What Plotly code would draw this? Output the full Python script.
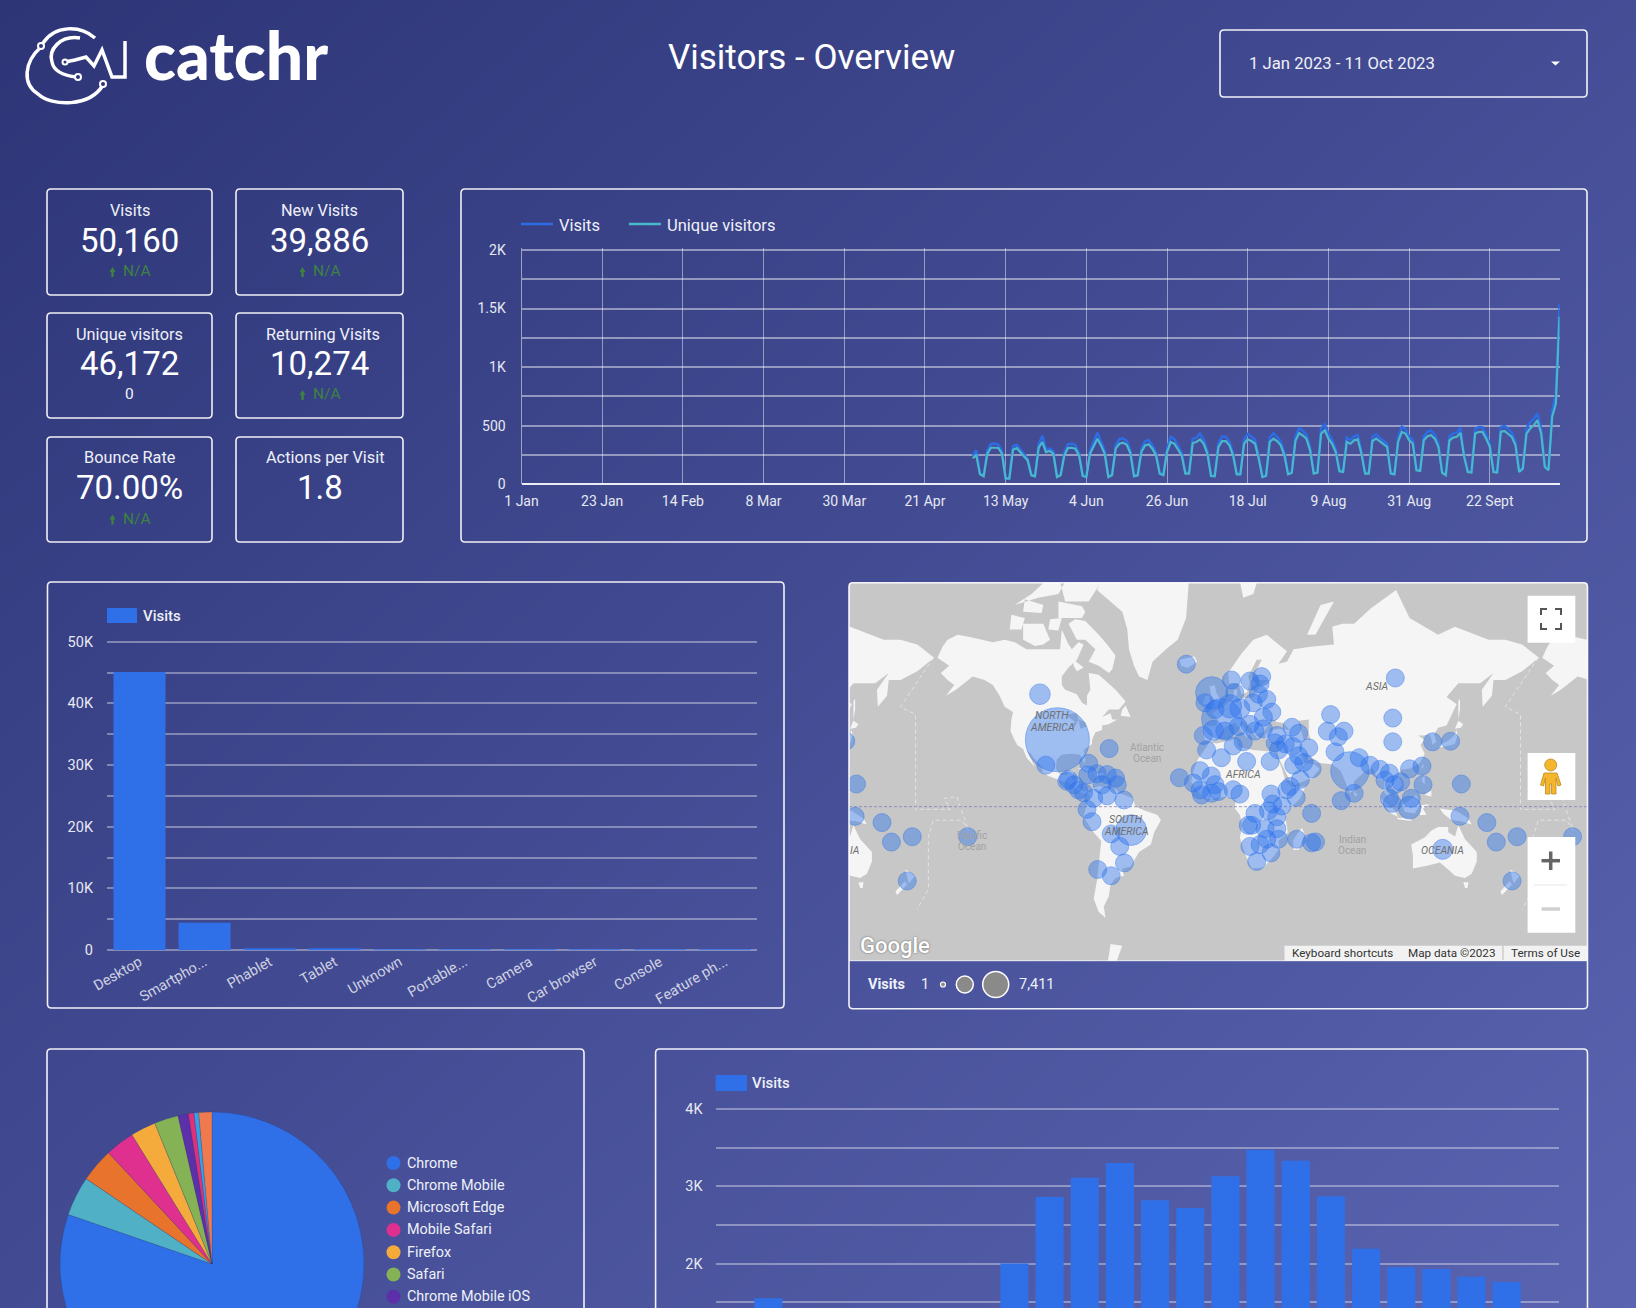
import math
import pandas as pd
import plotly.graph_objects as go

W, H, PAGE_H = 1636, 1440, 1308

# ---------- data ----------
kpi_titles = ["Visits", "New Visits", "Unique visitors", "Returning Visits", "Bounce Rate", "Actions per Visit"]
kpi_values = ["50,160", "39,886", "46,172", "10,274", "70.00%", "1.8"]
kpi_deltas = ["N/A", "N/A", "0", "N/A", "N/A", ""]

unique_may = [224,247,85,68,261,312,312,310,261,48,48,295,310,275,233,204,77,68,312,361,275,284,261,62,77,247,310,312]
unique_jun = [304,247,71,62,261,332,389,332,261,62,77,304,346,355,338,267,68,77,275,332,341,304,247,91,77,275,361,346,295,247]
unique_jul = [91,91,352,361,383,346,261,71,68,318,369,369,332,247,85,85,346,383,369,346,219,62,71,361,389,369,332,247,85,97,369]
unique_aug = [437,417,389,290,91,99,432,460,389,346,275,111,105,361,346,375,383,261,91,91,370,390,362,342,319,91,85,362,447,433,376]
unique_sep = [348,120,114,376,410,419,390,319,97,77,376,399,405,439,234,105,100,433,447,447,390,319,105,100,447,456,433,405,333,105]
unique_oct = [134,433,476,504,547,433,148,120,576,690,1431]
visits_may = [245,290,92,75,287,345,348,340,285,52,53,325,338,298,250,218,84,74,342,415,300,305,283,68,84,270,342,345]
visits_jun = [335,270,78,68,288,370,440,365,285,68,85,335,385,392,372,290,74,84,305,368,378,335,270,100,84,305,405,385,325,268]
visits_jul = [100,100,388,398,432,380,285,78,75,350,408,408,365,268,93,93,382,430,408,380,238,68,78,400,435,405,365,270,93,106,408]
visits_aug = [480,458,425,315,100,108,478,510,430,380,300,122,115,398,378,410,420,285,100,100,405,428,395,372,345,100,92,398,490,472,408]
visits_sep = [378,130,124,408,448,458,425,345,106,84,410,435,442,482,255,114,108,472,490,488,425,345,114,108,488,498,472,442,362,114]
visits_oct = [146,480,530,560,604,470,160,130,640,760,1539]
line_tick_dates = ["2023-01-01","2023-01-23","2023-02-14","2023-03-08","2023-03-30","2023-04-21","2023-05-13",
                   "2023-06-04","2023-06-26","2023-07-18","2023-08-09","2023-08-31","2023-09-22"]
line_tick_text = ["1 Jan","23 Jan","14 Feb","8 Mar","30 Mar","21 Apr","13 May","4 Jun","26 Jun","18 Jul","9 Aug","31 Aug","22 Sept"]

device_names = ["Desktop","Smartpho...","Phablet","Tablet","Unknown","Portable...","Camera","Car browser","Console","Feature ph..."]
device_visits = [45100,4430,240,190,90,40,30,15,10,5]

browser_names = ["Chrome","Chrome Mobile","Microsoft Edge","Mobile Safari","Firefox","Safari","Chrome Mobile iOS","Samsung Internet","Opera","Others"]
browser_visits = [40280,2110,1810,1550,1350,1280,550,300,250,700]
browser_colors = ["#2f70e9","#4fb0c6","#e8732c","#e0308f","#f4ab3c","#85b254","#5c30a8","#e0307a","#35a0e8","#ef7a4d"]

hours = [str(h) for h in range(24)]
hour_visits = [1380,1550,1250,1100,1000,950,1000,1300,2000,2860,3110,3300,2820,2720,3130,3470,3330,2870,2190,1950,1930,1830,1760,1350]

city_lon = [-107,-96.6,-103.5,-78,-65.8,-90,-91,-86.7,-84,-81,-78.5,-73,-67,-62,-61,-70,-75,-67,-57,-79,-76,-64.6,-52.7,-59.5,-56.7,-72.6,-64.6,-150,
            -19.9,-4.8,1.2,7,18,25,24,23,9,-8.8,-2.8,6.1,12,20,28,31,26,18,11,21,26,-9.8,-3.8,3,-7.8,8,14,1,16,30,34,33,35,39,43,47,43.5,53,47,44,50,55,48,66,64,74,70.6,68.6,77.5,83,89.4,80,72.3,
            -24,-11.7,-15.7,-5,-11.7,-10.8,-2.8,-4.8,-0.8,8,12,30.5,40,42,45.5,21,29,31.5,37,34,27,34,35,28,19,24,18,30.5,22,45.8,54.7,54.7,57,17,
            104.5,103,103,126.7,137.4,113,120.4,121,143.8,95.4,101,98.4,107.7,104,101,102.7,114,113,143,159,164.6,177,174,132.7]
city_lat = [55.5,37,24,25,32.7,16,15,12.9,9.9,8.3,18.6,19.3,18.8,16.8,12.9,12.9,5,6.5,4,-1.6,-8.9,-16,-13.8,-23,-31.7,-35,-38,-17.6,
            64.4,56,46.3,60,59.7,61,58.8,55.5,56,52.5,50,51.2,50.3,52.5,53.7,49,47,44,43,41,42,39,41.3,41,32,34,36,28,26,26,39,35.5,32,35,42.7,40,33.7,33.1,29,24,25.5,22,16,48,41,41,38.4,31,20.8,28,24,8,3.6,
            17,21,14,18,10,7,13,8,9,10,7.5,7.5,10,12,5.5,-4,-2.4,1.6,0.4,-6,-13,-13,-19,-19,-11,-22,-23,-26.5,-31,-19,-4,-21,-20.5,-11,
            60.6,46.6,36,36,36.3,22,23.5,13,13.4,21.7,19.6,15.6,14.6,13,5,2,5,-0.6,-5.7,-9.4,-20.6,-17.6,-40.4,-24.6]
city_visits = [770,7411,380,260,250,340,232,232,232,205,180,260,320,320,420,260,390,232,232,232,320,232,1700,232,260,320,425,232,
               232,1850,2900,320,390,290,232,232,260,390,425,985,725,320,232,320,232,500,390,320,180,320,725,500,260,260,260,260,260,290,500,232,390,232,232,232,232,260,180,232,232,232,260,260,232,260,205,500,2660,260,260,232,232,
               232,232,260,232,260,260,260,260,260,232,232,232,232,180,232,232,260,205,232,205,205,180,180,180,180,205,180,232,390,260,260,232,180,232,
               320,260,260,320,425,320,355,545,232,205,260,390,545,232,390,290,260,930,232,232,232,232,355,725]

land = [
 [(-168,66),(-165,68.5),(-162,70),(-156,71),(-148,70.5),(-141,70),(-135,69.5),(-128,70),(-122,69.5),(-115,68),(-108,68),(-102,68),(-95,68),(-94,72),(-90,69),(-88,68),(-84,69.5),(-81,69),(-85,65.5),(-90,63.5),(-94,61),(-94,58.5),(-92,57),(-85,55.5),(-82,52.5),(-79,51.5),(-79,55),(-77,57),(-78,62),(-72,61.5),(-66,59),(-62,57),(-56,53),(-60,50),(-66,50),(-70,47),(-65,48.5),(-64,46),(-61,46),(-66,44),(-70,43.5),(-70,41.5),(-74,40.5),(-76,37),(-76,35),(-81,32),(-80,27),(-80.5,25),(-82,27),(-83,29.5),(-89,30),(-94,29.5),(-97,27),(-97.5,22),(-95,18.5),(-91,18.5),(-90,21),(-87,21),(-88,16),(-84,15.5),(-83.5,11),(-81,9),(-79,9.5),(-77.5,8),(-78,7.5),(-80,7.5),(-83,8.5),(-85.5,10),(-87.5,13),(-92,14.5),(-96,16),(-102,18),(-105.5,20),(-105.5,23),(-109,26),(-112.5,30),(-114.5,31.5),(-112,27),(-110,23),(-112,25),(-115,28),(-117,32.5),(-120.5,34.5),(-122.5,37.5),(-124.5,41),(-124,46),(-123,49),(-128,51),(-131,55),(-135,58.5),(-140,60),(-147,61),(-152,59),(-157,57),(-163,55),(-158,58.5),(-162,60),(-166,62),(-161,64)],
 [(-80,73.5),(-72,71),(-67,69),(-62,66.5),(-64,63),(-66,62),(-72,64),(-78,65),(-74,68),(-80,70),(-85,70),(-90,73),(-86,73.8)],
 [(-117,70),(-110,68.7),(-105,69),(-101,70),(-105,73),(-112,73),(-117,73)],
 [(-92,76.5),(-85,76.5),(-78,76.5),(-72,78.5),(-62,82.5),(-70,83),(-80,83),(-92,81.5),(-95,79)],
 [(-125,72),(-118,72),(-116,74),(-124,74.5)],
 [(-96,74),(-82,74),(-80,75),(-82,75.8),(-96,76.5)],
 [(-117,75),(-106,74.8),(-105,76),(-116,76.8)],
 [(-102,72),(-96,71.8),(-94,74),(-101,73.8)],
 [(-122,76),(-112,77.5),(-104,79),(-98,81),(-92,79),(-96,77.5),(-108,77)],
 [(-87,65.5),(-81,63.5),(-85,62.5),(-87,64)],
 [(-59,47.5),(-53,47),(-56,51.5),(-58,50)],
 [(-85,22),(-80,23),(-74,20),(-78,20),(-82,22)],
 [(-74,19.5),(-69,19.5),(-68.5,18.5),(-74,18)],
 [(-73,78),(-66,81),(-60,82),(-45,83),(-30,83.5),(-18,80),(-20,74),(-25,70),(-32,68),(-40,65),(-43,60),(-48,61),(-51,64),(-54,68),(-55,72),(-58,75)],
 [(-24,65.5),(-15,66.3),(-13.5,65),(-19,63.4),(-23,64)],
 [(-77.5,8),(-75,11),(-71.5,12.3),(-68,11),(-62,10.5),(-60,8.5),(-52,5),(-50,0),(-44,-2.5),(-37,-5),(-35,-8),(-39,-15),(-41,-22),(-48,-26),(-53,-33.5),(-58,-34.5),(-57,-38),(-62,-39),(-65,-42),(-66,-47),(-69,-51),(-68,-55),(-72,-53),(-75,-48),(-73,-40),(-71.5,-30),(-70.5,-20),(-76,-14),(-81,-6),(-80,-2),(-79,2),(-77.5,5)],
 [(-6,35.8),(-2,35.2),(10,37.3),(11,33.5),(20,32),(25,31.5),(32,31),(34.5,28),(37,22),(39,15.5),(43,11.5),(51,12),(48,5),(41,-2),(39,-6),(40.5,-15),(35,-20),(35.5,-24),(32.5,-28),(26,-34),(19,-34.5),(15,-27),(12,-18),(13.5,-11),(12,-5),(9,-1),(9.5,4),(4,6),(-4,5),(-8,4.5),(-13,9),(-17,14.5),(-16,20),(-13,27),(-10,31)],
 [(49,-12.5),(50.5,-16),(47,-25),(44,-25),(43.5,-20),(46,-16)],
 [(-9,37),(-9.5,43),(-2,43.5),(-1,46),(-4.5,48.5),(2,51),(8,54),(8.5,57),(10.5,57),(10,54.5),(14,54),(20,54.5),(24,58),(29,60),(23,60),(21,62),(25,65.5),(22,65.5),(17,61),(18,59),(16,56),(13,55.5),(11,59),(5.5,59),(5,62),(13,67),(20,70),(28,71),(40,67.5),(35,64.5),(40,65),(44,68),(54,68.5),(68,69),(67,72.5),(73,73),(80,73),(90,75.5),(105,78),(113,74),(130,71),(140,72.5),(160,70),(170,70),(180,69),(190,66),(180,62.5),(170,60),(163,60),(162,55),(156.5,51),(156,57),(163,62),(155,59),(142,59),(135,54.5),(141,52),(135,43.5),(130,42.5),(127.5,39.5),(129,36),(126.5,34.5),(126,37.5),(125,39.5),(121,39),(118,39),(122,37),(119.5,34.5),(122,30),(119,25),(113,22),(108,21.5),(106,19),(109,13),(105,9),(100.5,13.5),(99,10),(103.5,2),(100.5,6),(98,8.5),(98,16),(94.5,16),(91,22.5),(87,21),(80,15),(80,10),(77.5,8),(73,19),(72,21),(67,24.5),(57,25.5),(56.5,27),(50,30),(48,30),(51,25),(56,24.5),(59.5,22),(55,17),(45,13),(43,13),(39,21),(35,28),(34.5,31),(36,36),(30,36),(26.5,38.5),(29,41),(35,42),(41.5,41.5),(38,44.5),(34,45),(31,46.5),(28,42.5),(26,40.5),(23,40),(23,37),(20,40),(19,42),(14,45.5),(12.5,44),(18,40),(16,38),(12,42),(9,44.5),(3.5,43),(0,39.5),(-2,37),(-5.5,36)],
 [(-5.5,50),(1.5,51.5),(0,54),(-2,56),(-3,58.5),(-6,58),(-5,54.5),(-3,53.5),(-5,52)],
 [(-10,52),(-6,52),(-6,55),(-8.5,55)],
 [(12,79),(25,80.5),(20,77.5),(14,77)],
 [(52,71),(57,71),(68,76.5),(60,76)],
 [(130,33),(135,34),(140,35),(141.5,39),(141,41.5),(139.5,39),(136,36.5),(132,35),(130,33.5)],
 [(140,42),(143.5,42.5),(145,44),(142,45.5)],
 [(142,46),(143,50),(143,54),(142,53)],
 [(120,23),(121.5,25),(121,22)],
 [(120,16),(122,18.5),(122,14),(124,13),(121,14)],
 [(122,7),(126,6),(126,9.5),(123,8.5)],
 [(95,5.5),(104,-2),(106,-6),(102,-4),(97,2)],
 [(105.5,-6.5),(114,-7),(114,-8.5),(106,-7.5)],
 [(109,1),(117,7),(119,1),(116,-4),(110,-3)],
 [(119,-5),(120,1),(125,1.5),(121,-1),(123,-5)],
 [(131,-1),(141,-2.5),(148,-7),(150,-10.5),(143,-8.5),(138,-8),(133,-4)],
 [(80,9.5),(82,7),(80.5,6),(79.8,8)],
 [(114,-22),(122,-18),(126,-14),(130,-12),(136,-12),(136,-15),(140,-17.5),(142,-11),(146,-19),(153,-26),(153,-31),(150,-37),(146,-39),(140,-38),(136,-35),(131,-31.5),(124,-33),(115,-34.5),(115,-28)],
 [(145,-41),(148,-41),(147.5,-43.5),(146,-43.5)],
 [(173,-35),(178.5,-38),(175,-41.5),(174,-39)],
 [(172.5,-40.5),(174,-42),(168,-46.5),(167,-45)],
 [(-65,-63),(-58,-63.5),(-62,-68),(-68,-70),(-66,-66)],
]
lakes = [
 [(47,45.5),(53,46),(53,40),(54,37),(50,37),(49,40)],
 [(-92,48),(-85,48.5),(-84,46),(-87,42),(-88,44),(-86,45)],
 [(-84,46),(-80,45),(-79,43),(-83,42)],
]
date_line = [(-170.4,66),(-190,51),(-181,48),(-181,-1.6),(-160.5,-1.6),(-164,5),(-156.5,6),(-149.5,-14),(-153.5,-8),(-170.4,-8),(-173.4,-17.6),(-173.4,-44),(-180,-52)]

# ---------- pixel helpers ----------
def fx(x): return x / W
def fy(y): return 1 - y / H
def merc(lat): return math.log(math.tan(math.pi / 4 + math.radians(lat) / 2))

shapes, notes = [], []
FONT = "Roboto"
def T(text, x, y, size, color="#ffffff", anchor="center", family=FONT, weight=None, italic=False):
    f = dict(family=family, size=size, color=color)
    if weight: f["weight"] = weight
    if italic: f["style"] = "italic"
    notes.append(dict(text=text, x=fx(x), y=fy(y), xref="paper", yref="paper", showarrow=False,
                      xanchor=anchor, yanchor="middle", font=f, borderpad=0, borderwidth=0))
def S(path, line=None, width=0, fill=None):
    s = dict(type="path", xref="paper", yref="paper", path=path, layer="above", line=dict(width=width, color=line or "rgba(0,0,0,0)"))
    if fill: s["fillcolor"] = fill
    shapes.append(s)
def pt(x, y): return f"{fx(x):.5f},{fy(y):.5f}"
def poly(pts, close=False): return "M" + " L".join(pt(*p) for p in pts) + (" Z" if close else "")
def curve(start, *segs):
    p = "M" + pt(*start)
    for c1, c2, e in segs:
        p += " C" + pt(*c1) + " " + pt(*c2) + " " + pt(*e)
    return p
def rrect(x0, y0, x1, y1, r=4, line="rgba(255,255,255,0.92)", width=1.6, fill=None):
    p = ("M"+pt(x0+r,y0)+" L"+pt(x1-r,y0)+" Q"+pt(x1,y0)+" "+pt(x1,y0+r)+" L"+pt(x1,y1-r)+" Q"+pt(x1,y1)+" "+pt(x1-r,y1)
         +" L"+pt(x0+r,y1)+" Q"+pt(x0,y1)+" "+pt(x0,y1-r)+" L"+pt(x0,y0+r)+" Q"+pt(x0,y0)+" "+pt(x0+r,y0)+" Z")
    S(p, line, width, fill)
def circle(cx, cy, r, fill=None, line=None, width=0):
    s = dict(type="circle", xref="paper", yref="paper", x0=fx(cx-r), x1=fx(cx+r), y0=fy(cy+r), y1=fy(cy-r), layer="above",
             line=dict(width=width, color=line or "rgba(0,0,0,0)"))
    if fill: s["fillcolor"] = fill
    shapes.append(s)

fig = go.Figure()

# gradient page background
fig.add_trace(go.Heatmap(z=[[0, 0.5], [0.5, 1]], x=[0, 1], y=[1, 0], zsmooth="best", showscale=False, hoverinfo="skip",
                         colorscale=[[0, "#2d3577"], [1, "#5c66b3"]], zmin=0, zmax=1, xaxis="x", yaxis="y"))

# line chart
days = pd.date_range("2023-05-04", periods=161, freq="D")
visits_daily = visits_may + visits_jun + visits_jul + visits_aug + visits_sep + visits_oct
unique_daily = unique_may + unique_jun + unique_jul + unique_aug + unique_sep + unique_oct
fig.add_trace(go.Scatter(x=days, y=visits_daily, mode="lines", line=dict(color="#2c6de3", width=2.5), xaxis="x2", yaxis="y2", name="Visits", hoverinfo="skip"))
fig.add_trace(go.Scatter(x=days, y=unique_daily, mode="lines", line=dict(color="#4ab8cb", width=2.2), xaxis="x2", yaxis="y2", name="Unique visitors", hoverinfo="skip"))

# device bars
fig.add_trace(go.Bar(x=device_names, y=device_visits, marker=dict(color="#2f70e9", line=dict(width=0)), xaxis="x3", yaxis="y3", name="Visits", hoverinfo="skip"))

# map
XR = [-220.65, 218.9]; YR = [-1.6008, 2.3285]
fig.add_trace(go.Scatter(x=[XR[0], XR[1], XR[1], XR[0], XR[0]], y=[YR[0], YR[0], YR[1], YR[1], YR[0]], mode="lines", fill="toself",
                         fillcolor="#c7c7c7", line=dict(width=0), xaxis="x4", yaxis="y4", hoverinfo="skip"))
def polys(groups, off=(-360, 0, 360)):
    xs, ys = [], []
    for k in off:
        for g in groups:
            xs += [p[0] + k for p in g] + [g[0][0] + k, None]
            ys += [merc(p[1]) for p in g] + [merc(g[0][1]), None]
    return xs, ys
lx, ly = polys(land)
fig.add_trace(go.Scatter(x=lx, y=ly, mode="lines", fill="toself", fillcolor="#f5f5f5", line=dict(width=0), xaxis="x4", yaxis="y4", hoverinfo="skip"))
wx, wy = polys(lakes)
fig.add_trace(go.Scatter(x=wx, y=wy, mode="lines", fill="toself", fillcolor="#c7c7c7", line=dict(width=0), xaxis="x4", yaxis="y4", hoverinfo="skip"))
for k in (0, 360):
    fig.add_trace(go.Scatter(x=[p[0] + k for p in date_line], y=[merc(p[1]) for p in date_line], mode="lines",
                             line=dict(color="rgba(255,255,255,0.5)", width=1, dash="4px,3px"), xaxis="x4", yaxis="y4", hoverinfo="skip"))
fig.add_trace(go.Scatter(x=XR, y=[0, 0], mode="lines", line=dict(color="rgba(120,120,190,0.75)", width=1, dash="3px,2px"), xaxis="x4", yaxis="y4", hoverinfo="skip"))
blon, blat, bsize = [], [], []
for k in (-360, 0, 360):
    blon += [v + k for v in city_lon]
    blat += [merc(v) for v in city_lat]
    bsize += city_visits
fig.add_trace(go.Scatter(x=blon, y=blat, mode="markers", xaxis="x4", yaxis="y4", hoverinfo="skip", name="Visits",
                         marker=dict(size=bsize, sizemode="area", sizeref=2 * 7411 / 64 ** 2, sizemin=9,
                                     color="rgba(46,116,236,0.62)", line=dict(color="rgba(46,116,236,0.7)", width=1))))

# hourly bars
fig.add_trace(go.Bar(x=hours, y=hour_visits, marker=dict(color="#2f70e9", line=dict(width=0)), xaxis="x5", yaxis="y5", name="Visits", hoverinfo="skip"))

# browser pie
PC = (212, 1264); PR = 152
fig.add_trace(go.Pie(labels=browser_names, values=browser_visits, sort=False, direction="clockwise", rotation=0, textinfo="none", hoverinfo="skip",
                     marker=dict(colors=browser_colors, line=dict(color="rgba(40,50,110,0.35)", width=0.6)), showlegend=False,
                     domain=dict(x=[fx(PC[0] - PR), fx(PC[0] + PR)], y=[fy(PC[1] + PR), fy(PC[1] - PR)])))

# ---------- axes ----------
GRID = "rgba(255,255,255,0.36)"
TICK = "#e6e8f2"
hidden = dict(visible=False, fixedrange=True, showgrid=False, zeroline=False)
layout = dict(
    width=W, height=H, margin=dict(l=0, r=0, t=0, b=0, autoexpand=False), autosize=False, showlegend=False, hovermode=False,
    paper_bgcolor="#2d3577", plot_bgcolor="rgba(0,0,0,0)", barmode="overlay", bargap=0.2,
    xaxis=dict(hidden, domain=[0, 1], range=[0, 1]),
    yaxis=dict(hidden, domain=[0, 1], range=[0, 1]),
    xaxis2=dict(domain=[fx(521.5), fx(1559.5)], anchor="y2", type="date", range=["2023-01-01", "2023-10-11"],
                tickmode="array", tickvals=line_tick_dates, ticktext=line_tick_text, showgrid=True, gridcolor="rgba(255,255,255,0.45)", gridwidth=1.4,
                tickfont=dict(family=FONT, size=14, color=TICK), showline=False, zeroline=False, ticks="", tickangle=0, ticklabelstandoff=7),
    # the value ranges end just past the top tick, so that the top gridline is still drawn
    yaxis2=dict(domain=[fy(484.3), fy(248.25)], anchor="x2", range=[0, 2015], tickmode="array",
                tickvals=[0, 250, 500, 750, 1000, 1250, 1500, 1750, 2000], ticktext=["0", "", "500", "", "1K", "", "1.5K", "", "2K"],
                showgrid=True, gridcolor="rgba(255,255,255,0.45)", gridwidth=1.6, zeroline=True, zerolinecolor="rgba(255,255,255,0.9)", zerolinewidth=2,
                tickfont=dict(family=FONT, size=14, color=TICK), ticks="", ticklabelstandoff=12, showline=True, linecolor="rgba(255,255,255,0.5)", linewidth=1),
    xaxis3=dict(domain=[fx(107), fx(757.4)], anchor="y3", type="category", showgrid=False, tickangle=-30, zeroline=False,
                tickfont=dict(family=FONT, size=14.5, color="rgba(255,255,255,0.75)"), ticks="", showline=False, range=[-0.5, 9.5], categoryorder="array", categoryarray=device_names),
    yaxis3=dict(domain=[fy(950), fy(640.15)], anchor="x3", range=[0, 50250], tickmode="array",
                tickvals=list(range(0, 50001, 5000)), ticktext=["0", "", "10K", "", "20K", "", "30K", "", "40K", "", "50K"],
                showgrid=True, gridcolor=GRID, gridwidth=2, zeroline=True, zerolinecolor=GRID, zerolinewidth=2,
                tickfont=dict(family=FONT, size=14.5, color=TICK), ticks="", ticklabelstandoff=13, showline=False),
    xaxis4=dict(hidden, domain=[fx(849), fx(1587.5)], anchor="y4", range=XR),
    yaxis4=dict(hidden, domain=[fy(960.7), fy(582.7)], anchor="x4", range=YR),
    xaxis5=dict(domain=[fx(715.6), fx(1559.4)], anchor="y5", type="category", showgrid=False, zeroline=False, ticks="",
                showticklabels=False, range=[-0.5, 23.5]),
    yaxis5=dict(domain=[fy(1418), fy(1107.45)], anchor="x5", range=[0, 4020], tickmode="array",
                tickvals=[1500, 2000, 2500, 3000, 3500, 4000], ticktext=["", "2K", "", "3K", "", "4K"],
                showgrid=True, gridcolor=GRID, gridwidth=2, zeroline=False,
                tickfont=dict(family=FONT, size=14.5, color=TICK), ticks="", ticklabelstandoff=12, showline=False),
)

# ---------- header ----------
T("Visitors - Overview", 811, 58, 35)
rrect(1220, 30, 1587, 97)
T("1 Jan 2023 - 11 Oct 2023", 1249, 64, 16.7, "#f0f1f8", "left")
S(poly([(1551, 61.5), (1560, 61.5), (1555.5, 65.5)], True), fill="#ffffff")
T("catchr", 236, 55, 66, "#ffffff", "center", "Lato", 900)
S(curve((41, 47), ((24, 62), (22, 84), (38, 94)), ((52, 107), (90, 107), (103, 85))), "#ffffff", 3.5)
S(curve((95, 38), ((80, 25), (55, 25), (43, 43))), "#ffffff", 3.5)
S(curve((80, 38), ((60, 35), (48, 50), (52, 62)), ((54, 72), (66, 76), (77, 77))), "#ffffff", 3.5)
S(poly([(65, 62), (75, 60), (86, 57), (94, 66), (102, 50), (112, 77), (125, 77), (125, 41)]), "#ffffff", 3.5)
for c in [(41, 46, 3), (78, 77, 3), (103, 84, 3), (65, 62, 2.5)]:
    circle(c[0], c[1], c[2], "#2d3577", "#ffffff", 2)

# ---------- KPI cards ----------
card_x = [(47, 212), (236, 403)]
card_y = [(189, 295), (313, 418), (437, 542)]
title_offset = [0, 0, 0, 3.5, 0, 5.5]
title_row_dy = [0, 1, -0.5]
value_row_dy = [1.5, 1, 1]
for i, t in enumerate(kpi_titles):
    col, row = i % 2, i // 2
    x0, x1 = card_x[col]; y0, y1 = card_y[row]
    cx = (x0 + x1) / 2
    rrect(x0, y0, x1, y1)
    dy = [0, -1, -0.5][row]
    T(t, cx + title_offset[i], y0 + 21 + title_row_dy[row], 16.3, "#eef0f8")
    T(kpi_values[i], cx, y0 + 50 + dy + value_row_dy[row], 33)
    if kpi_deltas[i] == "N/A":
        yd = y0 + 82 + dy
        T("N/A", cx + 7.5, yd, 15.5, "#3d8240")
        ax = cx - 17
        S(poly([(ax - 3, yd + 1), (ax, yd - 4), (ax + 3, yd + 1), (ax + 1.2, yd + 1), (ax + 1.2, yd + 6), (ax - 1.2, yd + 6), (ax - 1.2, yd + 1)], True), fill="#3d8240")
    elif kpi_deltas[i]:
        T(kpi_deltas[i], cx, y0 + 82 + dy, 15.5, "#f0f1f8")

# ---------- line chart panel ----------
rrect(461, 189, 1587, 542)
S(poly([(521, 224), (553, 224)]), "#2c6de3", 2.5)
T("Visits", 559, 225, 16.5, "#eef0f8", "left")
S(poly([(629, 224), (661, 224)]), "#4ab8cb", 2.5)
T("Unique visitors", 667, 225, 16.5, "#eef0f8", "left")

# ---------- device panel ----------
rrect(47.5, 582, 784, 1008)
S(poly([(107, 608), (137, 608), (137, 623), (107, 623)], True), fill="#2f70e9")
T("Visits", 143, 616, 15, "#eef0f8", "left", weight=500)

# ---------- map panel ----------
for txt, x, y in [("NORTH", 1052, 715), ("AMERICA", 1052, 727.5), ("SOUTH", 1126, 819), ("AMERICA", 1126, 831.5), ("AFRICA", 1243, 774), ("ASIA", 1376, 686), ("OCEANIA", 1442, 850), ("IA", 855, 850)]:
    T(txt, x, y, 10.5, "#6f6f6f", italic=True)
for txt, x, y in [("Atlantic", 1147, 747), ("Ocean", 1147, 758.5), ("Pacific", 972, 835), ("Ocean", 972, 846.5), ("Indian", 1352, 839), ("Ocean", 1352, 850.5)]:
    T(txt, x, y, 10, "#a2a2a2")
T("Google", 895, 945, 22, "#ffffff", family="Roboto", weight=500)
notes[-1]["font"]["shadow"] = "0 0 2px #555"
S(poly([(1284.5, 945.7), (1587, 945.7), (1587, 960.7), (1284.5, 960.7)], True), fill="rgba(245,245,245,0.92)")
T("Keyboard shortcuts", 1342, 953, 11.7, "#333333")
T("Map data ©2023", 1451.5, 953, 11.7, "#333333")
T("Terms of Use", 1545, 953, 11.7, "#333333")
S(poly([(1503, 946), (1503, 960)]), "#bbbbbb", 1)
S(poly([(1527.6, 595.7), (1575.3, 595.7), (1575.3, 642.7), (1527.6, 642.7)], True), fill="#ffffff")
for a, b, c in [((1541, 615), (1541, 609), (1547, 609)), ((1555, 609), (1561, 609), (1561, 615)), ((1561, 623), (1561, 629), (1555, 629)), ((1547, 629), (1541, 629), (1541, 623))]:
    S(poly([a, b, c]), "#555555", 2)
S(poly([(1527.6, 753), (1575.3, 753), (1575.3, 800), (1527.6, 800)], True), fill="#ffffff")
S(poly([(1544, 773), (1557, 773), (1561, 785), (1558, 786), (1556, 778), (1556, 794), (1551.5, 794), (1551.5, 784), (1550, 784), (1550, 794), (1545.5, 794), (1545.5, 778), (1543.5, 786), (1540.5, 785)], True), "#b98a22", 0.8, "#f5b62e")
circle(1550.7, 765, 6, "#f5b62e", "#b98a22", 0.8)
S(poly([(1527.6, 837), (1575.3, 837), (1575.3, 932.7), (1527.6, 932.7)], True), fill="#ffffff")
S(poly([(1541.5, 860.7), (1560, 860.7)]), "#666666", 3.5)
S(poly([(1550.7, 851.5), (1550.7, 870)]), "#666666", 3.5)
S(poly([(1534, 885), (1567, 885)]), "#e6e6e6", 1)
S(poly([(1541.5, 909), (1560, 909)]), "#d0d0d0", 3.5)
rrect(849, 582.7, 1587.5, 1008.7)
S(poly([(849, 960.7), (1587.5, 960.7)]), "rgba(255,255,255,0.9)", 1)
T("Visits", 886, 984, 14.5, "#eef0f8", weight=700)
T("1", 925, 984, 14.5, "#eef0f8")
circle(943, 984.5, 2.5, "#8a8a8a", "#ffffff", 1.2)
circle(964.8, 984.5, 8.5, "#8a8a8a", "#ffffff", 1.5)
circle(995.7, 984.5, 13, "#8a8a8a", "#ffffff", 1.5)
T("7,411", 1036.5, 984, 14.5, "#eef0f8")

# ---------- pie panel ----------
rrect(47, 1049, 584, 1432)
for i, name in enumerate(browser_names[:7]):
    y = 1163 + 22.3 * i
    circle(393.5, y, 7, browser_colors[i])
    T(name, 407, y, 14.4, "#eef0f8", "left")

# ---------- hourly panel ----------
rrect(655.6, 1049, 1587.5, 1432)
S(poly([(715.6, 1075), (747, 1075), (747, 1091), (715.6, 1091)], True), fill="#2f70e9")
T("Visits", 752, 1083, 15, "#eef0f8", "left", weight=500)

layout["shapes"] = shapes
layout["annotations"] = notes
fig.update_layout(**layout)

post = ("document.documentElement.style.margin='0';document.documentElement.style.overflow='hidden';"
        "document.body.style.margin='0';document.body.style.overflow='hidden';document.body.style.height='1308px';")
fig.write_html("out.html", post_script=post, config=dict(displayModeBar=False, responsive=False))
